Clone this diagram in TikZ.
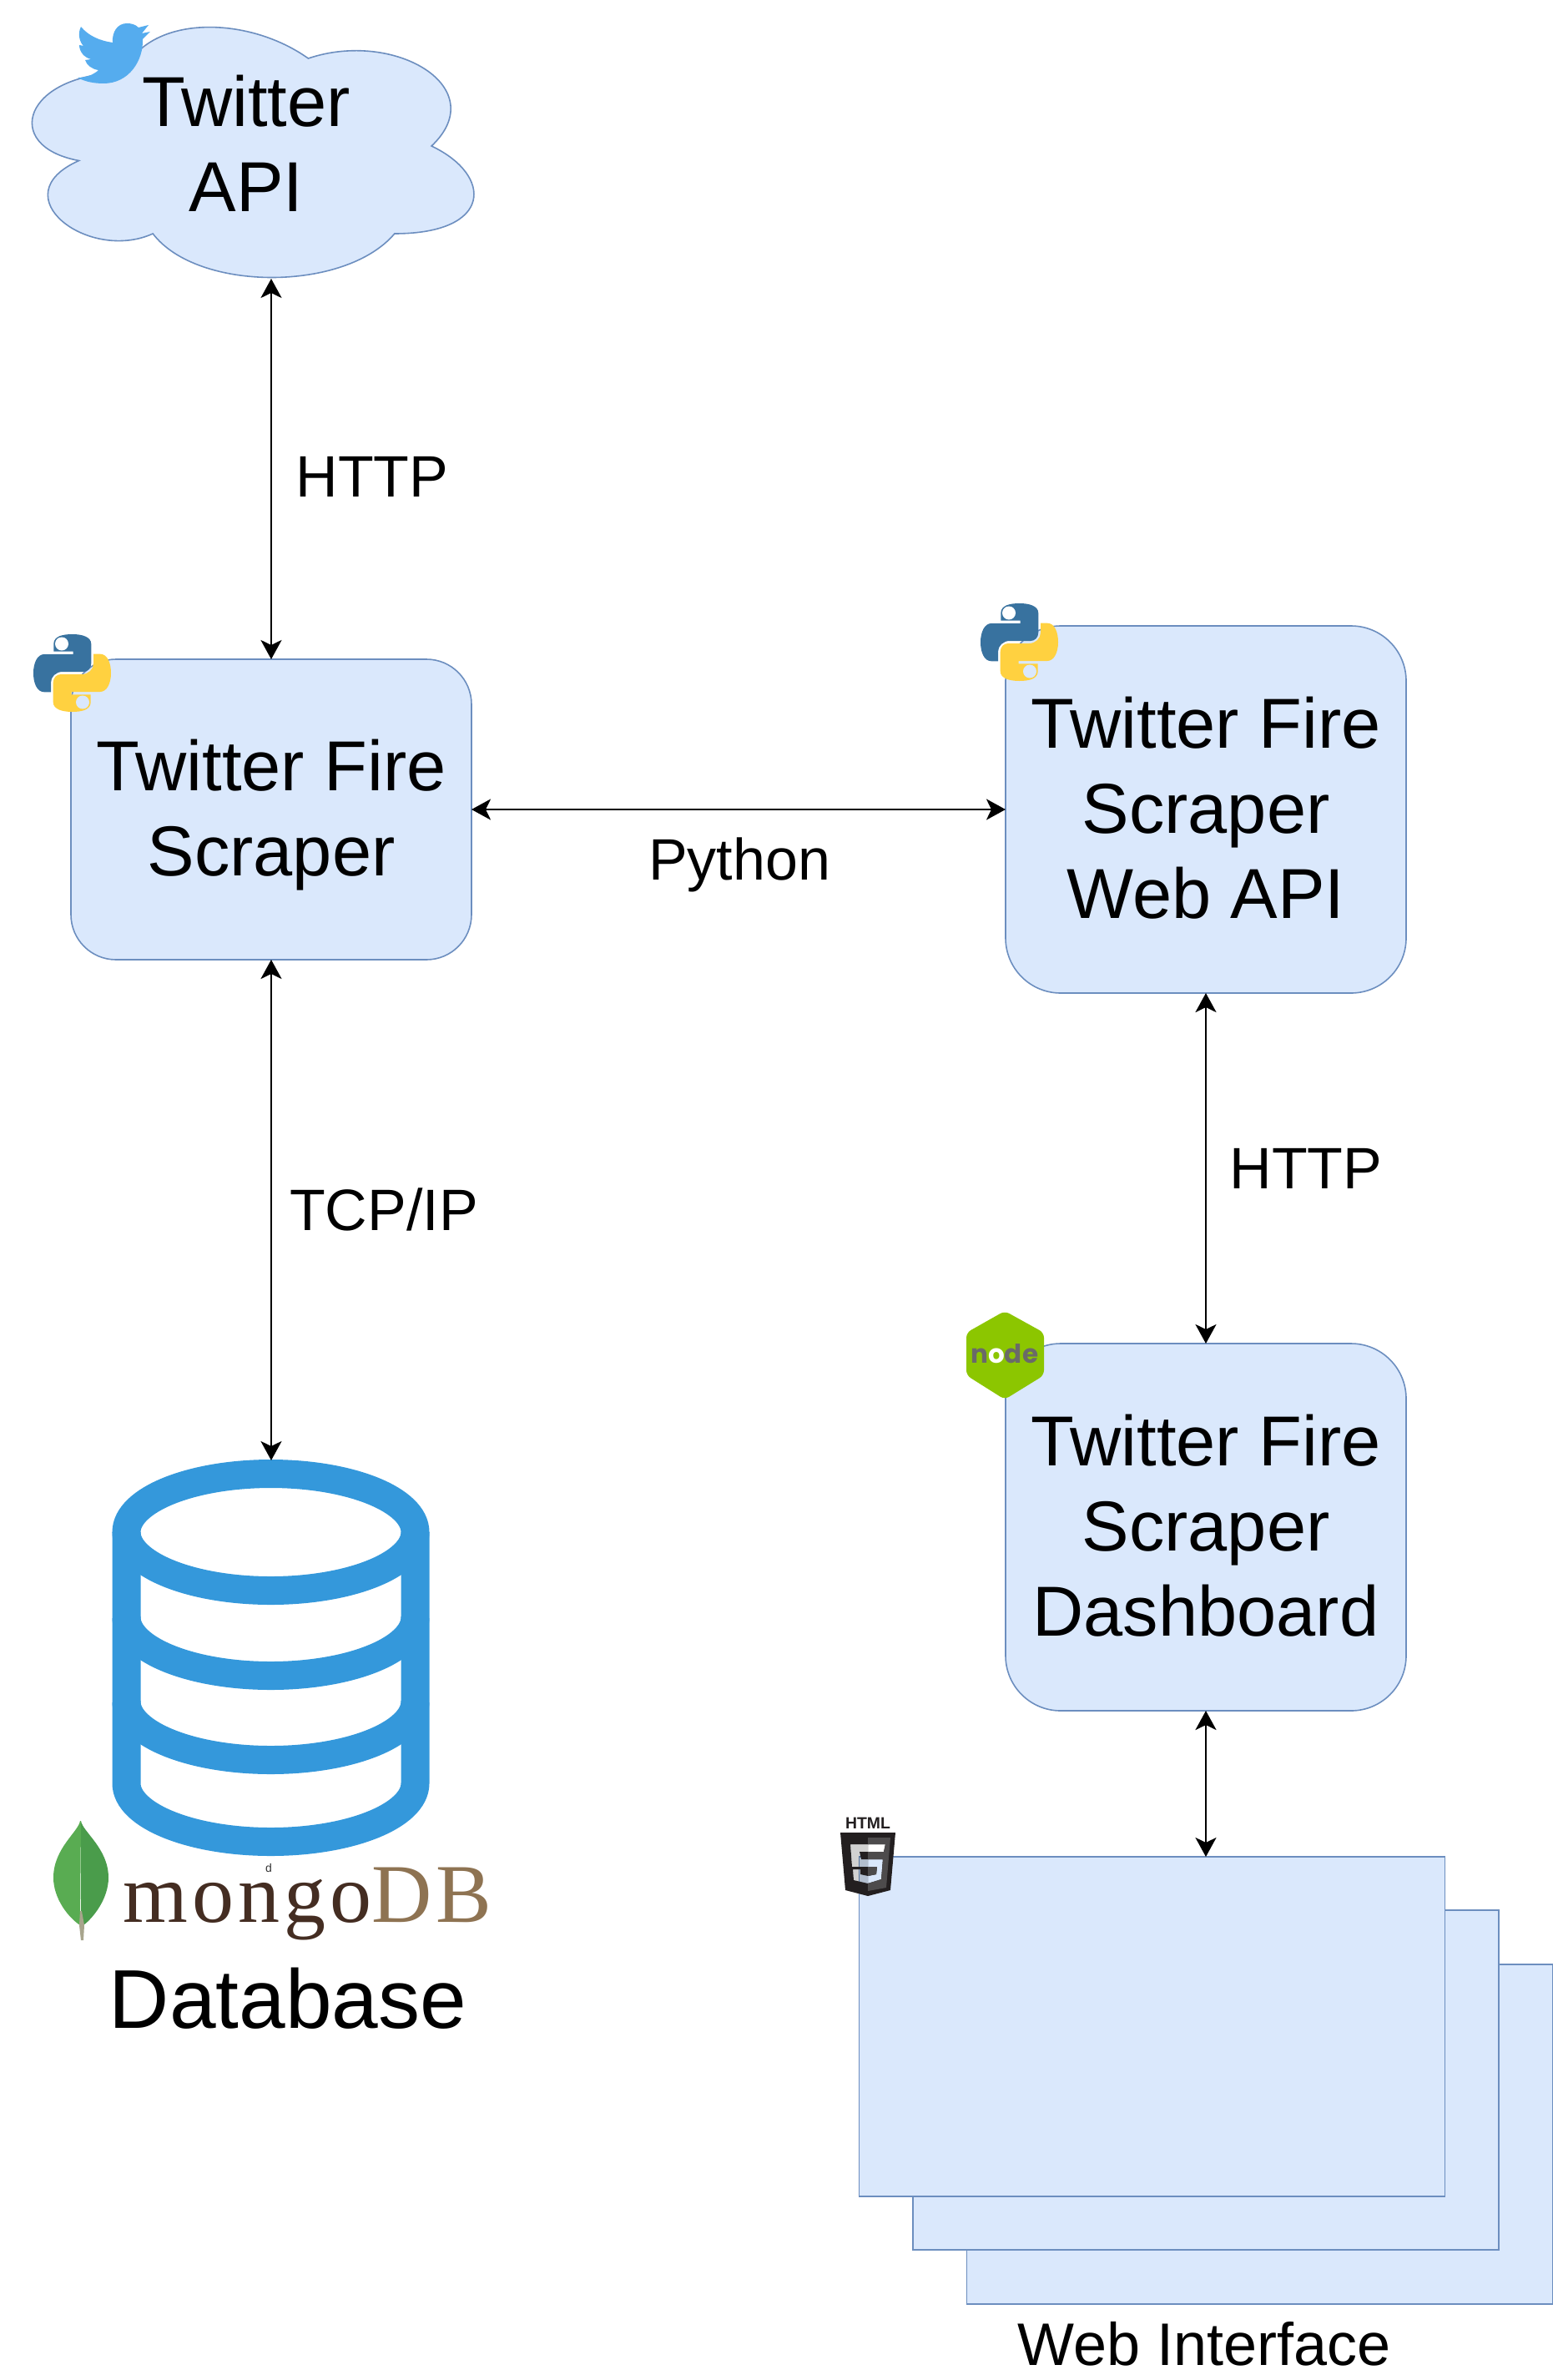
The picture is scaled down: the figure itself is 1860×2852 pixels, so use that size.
\documentclass[tikz,border=0pt]{standalone}
\usepackage{fontspec}
\setmainfont{Liberation Sans}
\newfontfamily\mongofont[LetterSpace=5]{Liberation Serif}
\newfontfamily\nodefont[LetterSpace=3]{Poppins}
\usetikzlibrary{arrows.meta}
\definecolor{boxfill}{HTML}{DAE8FC}
\definecolor{boxline}{HTML}{6C8EBF}
\definecolor{dbblue}{HTML}{3498DB}
\definecolor{birdblue}{HTML}{55ACEE}
\definecolor{pyblue}{HTML}{38729F}
\definecolor{pyyellow}{HTML}{FFD140}
\definecolor{mongodark}{HTML}{442D22}
\definecolor{mongotan}{HTML}{8E7352}
\definecolor{leafl}{HTML}{59AC52}
\definecolor{leafr}{HTML}{4A9C4B}
\definecolor{leafs}{HTML}{A8A58D}
\definecolor{nodegreen}{HTML}{8CC600}
\definecolor{nodegray}{HTML}{6A6A68}
\definecolor{htmldark}{HTML}{231F20}
\definecolor{htmlgray}{HTML}{4D4B4C}
\newcommand{\pysnake}{(24.3,11.7) .. controls (24.3,2) and (36,0) .. (46.7,0) .. controls (58,0) and (69.3,3) .. (69.3,11.7) -- (69.3,35) .. controls (69.3,41) and (65,45) .. (60,45) -- (35,45) .. controls (27,45) and (21,51) .. (21,58) -- (21,69.3) -- (13,69.3) .. controls (4,69.3) and (0,58) .. (0,46.5) .. controls (0,34) and (5,24) .. (13,24) -- (47.5,24) -- (47.5,20.7) -- (24.3,20.7) -- cycle}
\newcommand{\pyicon}[2]{%
  \begin{scope}[shift={(#1,#2)}]
    \fill[pyblue] \pysnake;
    \fill[white] (34,11.5) circle[radius=4pt];
    \begin{scope}[rotate around={180:(46.5,46.5)}]
      \fill[pyyellow] \pysnake;
      \fill[boxfill] (34,11.5) circle[radius=4pt];
    \end{scope}
  \end{scope}}
\newcommand{\fivepath}{(1019,2210) -- (1061,2210) -- (1059,2219) -- (1030,2219) -- (1032,2228) -- (1058,2228) -- (1056,2252) -- (1040,2257) -- (1023,2253) -- (1022,2240) -- (1031,2240) -- (1031,2246) -- (1040,2248) -- (1050,2246) -- (1051,2237) -- (1021,2237) -- cycle}
\tikzset{
  flowbox/.style={draw=boxline,fill=boxfill,line width=0.8pt,inner sep=0pt,outer sep=0pt,align=center,
    font=\fontsize{42.4}{51}\selectfont,minimum width=240pt},
  sheet/.style={draw=boxline,fill=boxfill,line width=0.8pt,inner sep=0pt,outer sep=0pt,
    minimum width=351pt,minimum height=203.5pt},
  linklabel/.style={inner sep=0pt,font=\fontsize{35}{42}\selectfont},
  link/.style={line width=1.3pt,{Stealth[length=11.5pt,width=12.5pt,inset=3pt]}-{Stealth[length=11.5pt,width=12.5pt,inset=3pt]}}
}
\begin{document}
\begin{tikzpicture}[x=0.5pt,y=-0.5pt]
\useasboundingbox (0,0) rectangle (1860,2852);
% cloud
\draw[boxline,fill=boxfill,line width=0.8pt]
  (147.75,87.5) .. controls (29.55,87.5) and (0,175) .. (94.56,192.5)
  .. controls (0,234.5) and (106.4,315) .. (183.2,280)
  .. controls (236.4,350) and (413.7,350) .. (472.8,280)
  .. controls (591,280) and (591,210) .. (517.1,175)
  .. controls (591,105) and (472.8,35) .. (369.4,70)
  .. controls (295.5,17.5) and (177.3,17.5) .. (147.75,87.5) -- cycle;
\node[inner sep=0pt,align=center,font=\fontsize{42.4}{51}\selectfont] (api) at (295,172) {Twitter\\API};
\coordinate (apiB) at (325,334);
% bird
\fill[birdblue] (178,30) -- (166,33) .. controls (162,29) and (157,28) .. (152,28)
  .. controls (141,28) and (134,38) .. (135,51)
  .. controls (120,49) and (106,43) .. (97,32)
  .. controls (93,40) and (95,50) .. (100,55) -- (95,54)
  .. controls (95,62) and (101,69) .. (109,71) -- (102,72)
  .. controls (104,78) and (110,83) .. (118,84)
  .. controls (112,90) and (102,93) .. (93,93)
  .. controls (102,98) and (113,100) .. (124,100)
  .. controls (155,100) and (172,72) .. (171,47)
  -- (180,38) -- (170,40) -- cycle;
% boxes
\node[flowbox,minimum height=180pt,rounded corners=27pt] (scraper) at (325,970) {\rule{0pt}{37pt}Twitter Fire\\Scraper};
\node[flowbox,minimum height=220pt,rounded corners=33pt] (webapi) at (1445,970) {Twitter Fire\\Scraper\\Web API\rule[-2pt]{0pt}{2pt}};
\node[flowbox,minimum height=220pt,rounded corners=33pt] (dash) at (1445,1830) {Twitter Fire\\Scraper\\Dashboard\rule[-2pt]{0pt}{2pt}};
% sheets
\node[sheet] (web3) at (1509.5,2557.5) {};
\node[sheet] (web2) at (1445,2492.5) {};
\node[sheet] (web1) at (1380.5,2428.5) {};
% python icons
\pyicon{40}{760}
\pyicon{1175}{723}
% database icon
\coordinate (dbT) at (325,1750);
\draw[dbblue,line width=17pt] (324.5,1836) ellipse[x radius=86.5pt,y radius=35pt];
\draw[dbblue,line width=17pt] (151.5,1836) -- (151.5,2137) arc[start angle=180,end angle=360,x radius=86.5pt,y radius=35pt] -- (497.5,1836);
\draw[dbblue,line width=17pt] (151.5,1938) arc[start angle=180,end angle=360,x radius=86.5pt,y radius=35pt];
\draw[dbblue,line width=17pt] (151.5,2039) arc[start angle=180,end angle=360,x radius=86.5pt,y radius=35pt];
% mongodb
\fill[leafl] (96,2182) .. controls (94,2195) and (64,2215) .. (64,2250) .. controls (64,2275) and (82,2298) .. (96,2307) -- (97,2182) -- cycle;
\fill[leafr] (97,2182) .. controls (99,2195) and (130,2215) .. (130,2250) .. controls (130,2275) and (112,2298) .. (100,2307) -- (97,2290) -- cycle;
\fill[leafs] (96,2290) -- (98,2290) -- (101,2307) -- (100,2325) -- (97,2325) -- (95,2307) -- cycle;
\node[anchor=base west,inner sep=0pt,font=\mongofont\fontsize{50}{60}\selectfont] (mongo) at (147,2303) {\textcolor{mongodark}{mongo}\textcolor{mongotan}{DB}};
\node[inner sep=0pt,text=black!80,font=\fontsize{7}{8}\selectfont] (tiny) at (322,2238) {d};
\node[inner sep=0pt,font=\fontsize{50}{60}\selectfont] (dblabel) at (345,2395) {Database};
% node hexagon
\fill[nodegreen,rounded corners=3pt] (1204,1571) -- (1251,1597) -- (1251,1648) -- (1204,1677) -- (1158,1648) -- (1158,1597) -- cycle;
\node[inner sep=0pt,font=\nodefont\bfseries\fontsize{15.5}{20}\selectfont] (nodejs) at (1204,1622) {\textcolor{nodegray}{n}\textcolor{white}{o}\textcolor{nodegray}{de}};
% html5 icon
\node[inner sep=0pt,text=htmldark,font=\bfseries\fontsize{9.7}{12}\selectfont] (htmlt) at (1040,2184.5) {HTML};
\begin{scope}
  \clip (1000,2190) rectangle (1040,2280);
  \fill[htmldark,even odd rule] (1007,2196) -- (1073,2196) -- (1067,2265) -- (1040,2272) -- (1013,2265) -- cycle \fivepath;
  \fill[black,opacity=0.18] \fivepath;
\end{scope}
\begin{scope}
  \clip (1040,2190) rectangle (1080,2280);
  \fill[htmldark,even odd rule] (1007,2196) -- (1073,2196) -- (1067,2265) -- (1040,2272) -- (1013,2265) -- cycle \fivepath;
  \fill[htmlgray,even odd rule] (1040,2202) -- (1067,2202) -- (1062,2262) -- (1040,2266) -- cycle \fivepath;
\end{scope}
% connectors
\draw[link] (apiB) -- (scraper.north);
\draw[link] (scraper.east) -- (webapi.west);
\draw[link] (scraper.south) -- (dbT);
\draw[link] (webapi.south) -- (dash.north);
\draw[link] (dash.south) -- (web1.north -| dash.south);
% labels
\node[linklabel] (l1) at (446,571) {HTTP};
\node[linklabel] (l2) at (886,1036) {Python};
\node[linklabel] (l3) at (460,1449) {TCP/IP};
\node[linklabel] (l4) at (1565,1400) {HTTP};
\node[inner sep=0pt,font=\fontsize{36}{43}\selectfont] (webl) at (1443,2809) {Web Interface};
\end{tikzpicture}
\end{document}
